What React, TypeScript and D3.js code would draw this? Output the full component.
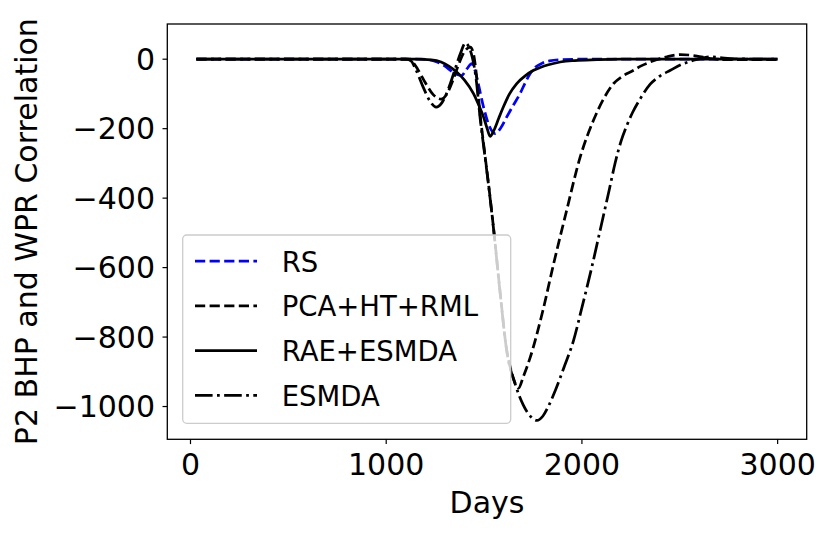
import React, { useEffect, useRef } from "react";
import * as d3 from "d3";

type Pt = [number, number];

// values (day, correlation)
const rsData: Pt[] = [
  [30, 0], [1000, 0], [1180, 0], [1230, -3], [1259, -8], [1300, -20], [1330, -33],
  [1352, -42], [1385, -47], [1412, -28], [1437, -13], [1452, -30], [1468, -65],
  [1497, -137], [1525, -190], [1557, -214], [1585, -198], [1616, -166], [1650, -132],
  [1684, -99], [1710, -68], [1736, -41], [1765, -22], [1795, -12], [1834, -5],
  [1900, -1], [2000, 0], [3000, 0],
];

const pcaData: Pt[] = [
  [30, 0], [1000, 0], [1110, 0], [1135, -8], [1160, -28], [1200, -68], [1240, -102],
  [1280, -115], [1310, -100], [1340, -62], [1370, -15], [1400, 22], [1430, 35],
  [1445, 18], [1460, -40], [1480, -160], [1500, -255], [1525, -370], [1548, -484],
  [1580, -660], [1616, -839], [1640, -900], [1660, -935], [1676, -947], [1700, -915],
  [1735, -860], [1800, -725], [1855, -590], [1920, -440], [1991, -282], [2059, -176],
  [2110, -115], [2162, -70], [2210, -48], [2264, -32], [2300, -20], [2349, -8],
  [2400, 2], [2435, 7], [2503, 13], [2550, 12], [2588, 9], [2656, 2], [2720, -1],
  [3000, -1],
];

const raeData: Pt[] = [
  [30, 0], [1150, 0], [1230, -2], [1280, -8], [1320, -20], [1360, -37], [1400, -60],
  [1446, -99], [1475, -135], [1497, -166], [1515, -198], [1531, -222], [1550, -205],
  [1575, -170], [1599, -137], [1630, -100], [1667, -70], [1710, -48], [1753, -32],
  [1790, -23], [1829, -16], [1889, -8], [1950, -4], [2050, -2], [2200, 0], [3000, 0],
];

const esmdaData: Pt[] = [
  [30, 0], [1000, 0], [1100, 0], [1125, -4], [1150, -28], [1190, -82], [1225, -122],
  [1255, -138], [1285, -125], [1320, -82], [1350, -32], [1380, 18], [1405, 47],
  [1420, 38], [1440, 5], [1460, -60], [1480, -170], [1500, -260], [1525, -372],
  [1548, -486], [1580, -662], [1616, -840], [1660, -937], [1700, -995], [1740, -1030],
  [1770, -1040], [1800, -1028], [1830, -998], [1863, -955], [1910, -885], [1957, -810],
  [2000, -715], [2050, -600], [2100, -475], [2140, -375], [2170, -298], [2200, -236],
  [2230, -190], [2260, -152], [2300, -112], [2349, -72], [2400, -48], [2452, -32],
  [2510, -15], [2571, -3], [2620, 4], [2656, 7], [2700, 5], [2780, 1], [3000, 0],
];

const seriesNames = ["RS", "PCA+HT+RML", "RAE+ESMDA", "ESMDA"];
const xTicks = [0, 1000, 2000, 3000];
const yTicks = [0, -200, -400, -600, -800, -1000];

const App: React.FC = () => {
  const ref = useRef<SVGSVGElement | null>(null);
  const width = 830;
  const height = 533;
  const left = 167.3;
  const right = 806.7;
  const top = 24;
  const bottom = 439.3;
  const font = "DejaVu Sans, sans-serif";

  useEffect(() => {
    const svg = d3.select(ref.current);
    svg.selectAll("*").remove();

    const all = [rsData, pcaData, raeData, esmdaData];
    const xs = all.flat().map((d) => d[0]);
    const ys = all.flat().map((d) => d[1]);
    const [x0, x1] = d3.extent(xs) as [number, number];
    const [y0, y1] = d3.extent(ys) as [number, number];
    const mx = (x1 - x0) * 0.05;
    const my = (y1 - y0) * 0.05;

    const x = d3.scaleLinear().domain([x0 - mx, x1 + mx]).range([left, right]);
    const y = d3.scaleLinear().domain([y0 - my, y1 + my]).range([bottom, top]);

    svg
      .append("defs")
      .append("clipPath")
      .attr("id", "plotClip")
      .append("rect")
      .attr("x", left)
      .attr("y", top)
      .attr("width", right - left)
      .attr("height", bottom - top);

    const line = d3
      .line<Pt>()
      .x((d) => x(d[0]))
      .y((d) => y(d[1]))
      .curve(d3.curveMonotoneX);

    const styles = [
      { data: rsData, color: "#0000ff", dash: "10.2,4.4" },
      { data: pcaData, color: "#000000", dash: "10.2,4.4" },
      { data: raeData, color: "#000000", dash: null },
      { data: esmdaData, color: "#000000", dash: "17.6,4.4,2.75,4.4" },
    ];

    const plot = svg.append("g").attr("clip-path", "url(#plotClip)");
    styles.forEach((s) => {
      plot
        .append("path")
        .datum(s.data)
        .attr("fill", "none")
        .attr("stroke", s.color)
        .attr("stroke-width", 2.75)
        .attr("stroke-linejoin", "round")
        .attr("stroke-dasharray", s.dash)
        .attr("d", line);
    });

    // ticks
    xTicks.forEach((t) => {
      svg
        .append("line")
        .attr("x1", x(t))
        .attr("x2", x(t))
        .attr("y1", bottom)
        .attr("y2", bottom + 4.8)
        .attr("stroke", "#000")
        .attr("stroke-width", 1.2);
      svg
        .append("text")
        .attr("x", x(t))
        .attr("y", 475)
        .attr("text-anchor", "middle")
        .attr("font-family", font)
        .attr("font-size", 30)
        .text(String(t));
    });

    yTicks.forEach((t) => {
      svg
        .append("line")
        .attr("x1", left - 4.8)
        .attr("x2", left)
        .attr("y1", y(t))
        .attr("y2", y(t))
        .attr("stroke", "#000")
        .attr("stroke-width", 1.2);
      svg
        .append("text")
        .attr("x", 155)
        .attr("y", y(t))
        .attr("dy", "0.36em")
        .attr("text-anchor", "end")
        .attr("font-family", font)
        .attr("font-size", 30)
        .text(t < 0 ? "\u2212" + Math.abs(t) : String(t));
    });

    // frame
    svg
      .append("rect")
      .attr("x", left)
      .attr("y", top)
      .attr("width", right - left)
      .attr("height", bottom - top)
      .attr("fill", "none")
      .attr("stroke", "#000")
      .attr("stroke-width", 1.3);

    svg
      .append("text")
      .attr("x", (left + right) / 2)
      .attr("y", 513)
      .attr("text-anchor", "middle")
      .attr("font-family", font)
      .attr("font-size", 30)
      .text("Days");

    svg
      .append("text")
      .attr("transform", `translate(37,${(top + bottom) / 2}) rotate(-90)`)
      .attr("text-anchor", "middle")
      .attr("font-family", font)
      .attr("font-size", 30)
      .text("P2 BHP and WPR Correlation");

    // legend
    const lg = svg.append("g");
    lg.append("rect")
      .attr("x", 182.7)
      .attr("y", 235)
      .attr("width", 328)
      .attr("height", 188.3)
      .attr("rx", 4)
      .attr("fill", "#ffffff")
      .attr("fill-opacity", 0.8)
      .attr("stroke", "#cccccc")
      .attr("stroke-width", 1.3);

    seriesNames.forEach((name, i) => {
      const base = 271.7 + i * 44.7;
      lg.append("line")
        .attr("x1", 195)
        .attr("x2", 257)
        .attr("y1", base - 10.5)
        .attr("y2", base - 10.5)
        .attr("stroke", styles[i].color)
        .attr("stroke-width", 2.75)
        .attr("stroke-dasharray", styles[i].dash);
      lg.append("text")
        .attr("x", 281.7)
        .attr("y", base)
        .attr("font-family", font)
        .attr("font-size", 27.5)
        .text(name);
    });
  }, []);

  return (
    <svg
      ref={ref}
      width={width}
      height={height}
      style={{ position: "absolute", left: 0, top: 0, background: "#fff" }}
    />
  );
};

export default App;
